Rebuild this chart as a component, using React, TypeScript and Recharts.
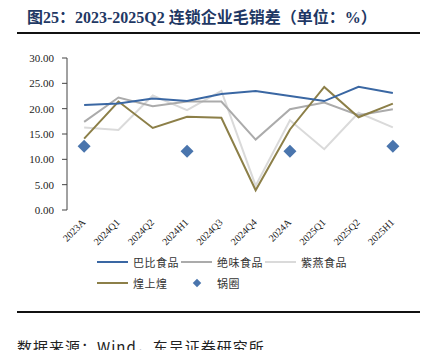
import React from 'react';
import { ComposedChart, Line, XAxis, YAxis } from 'recharts';

const categories = ['2023A', '2024Q1', '2024Q2', '2024H1', '2024Q3', '2024Q4', '2024A', '2025Q1', '2025Q2', '2025H1'];
const babi = [20.7, 21.0, 22.0, 21.5, 22.9, 23.5, 22.5, 21.5, 24.3, 23.1];
const juewei = [17.4, 22.2, 20.5, 21.4, 21.4, 13.9, 19.9, 21.2, 18.7, 19.9];
const ziyan = [16.3, 15.8, 22.6, 19.7, 23.5, 4.8, 17.7, 12.0, 19.2, 16.3];
const huangshanghuang = [14.1, 21.4, 16.2, 18.4, 18.2, 3.9, 15.9, 24.3, 18.3, 21.0];
const guoquan: (number | null)[] = [12.6, null, null, 11.6, null, null, 11.6, null, null, 12.6];
const yTicks = [0, 5, 10, 15, 20, 25, 30];
const boundaryTicks = [0, 1, 2, 3, 4, 5, 6, 7, 8, 9, 10];

const data = categories.map((c, i) => ({
  cat: c,
  babi: babi[i],
  juewei: juewei[i],
  ziyan: ziyan[i],
  hsh: huangshanghuang[i],
  gq: guoquan[i],
}));

const C_BABI = '#3A67A3';
const C_JUEWEI = '#ABABAB';
const C_ZIYAN = '#DADADA';
const C_HSH = '#8C7F48';
const C_GQ = '#4A75AD';

const SERIF = '"Liberation Serif", "Times New Roman", "Noto Sans CJK SC", serif';
const CJK = '"Noto Sans CJK SC", "Liberation Serif", sans-serif';

const XTick = (props: any) => {
  const { x, y, payload } = props;
  const ax = x + 2;
  const ay = y + 5;
  return (
    <text
      x={ax}
      y={ay}
      transform={`rotate(-45 ${ax} ${ay})`}
      textAnchor="end"
      fontSize={10}
      fill="#222"
      fontFamily={SERIF}
    >
      {payload.value}
    </text>
  );
};

const Diamond = (props: any) => {
  const { cx, cy, value, index } = props;
  if (value == null || cy == null || isNaN(cy)) return <g key={`d${index}`} />;
  const r = 6.5;
  return (
    <path
      key={`d${index}`}
      d={`M${cx},${cy - r}L${cx + r},${cy}L${cx},${cy + r}L${cx - r},${cy}Z`}
      fill={C_GQ}
      stroke="none"
    />
  );
};

const LegendItem = ({ color, label, left, top, diamond }: any) => (
  <div style={{ position: 'absolute', left, top, height: 14, display: 'flex', alignItems: 'center' }}>
    {diamond ? (
      <div style={{ width: 31, height: 14, position: 'relative' }}>
        <div
          style={{
            position: 'absolute',
            left: 13,
            top: 4,
            width: 6,
            height: 6,
            background: color,
            transform: 'rotate(45deg)',
          }}
        />
      </div>
    ) : (
      <div style={{ width: 31, height: 2, background: color }} />
    )}
    <span
      style={{
        marginLeft: 5,
        fontSize: 11,
        fontFamily: CJK,
        color: '#333',
        letterSpacing: 0.5,
        whiteSpace: 'nowrap',
      }}
    >
      {label}
    </span>
  </div>
);

export default function App() {
  return (
    <div
      style={{
        position: 'absolute',
        left: 0,
        top: 0,
        width: 442,
        height: 350,
        background: '#fff',
        overflow: 'hidden',
      }}
    >
      <div
        style={{
          position: 'absolute',
          left: 27,
          top: 8,
          fontFamily: SERIF,
          fontWeight: 'bold',
          fontSize: 16,
          color: '#1F3864',
          whiteSpace: 'nowrap',
          lineHeight: '20px',
        }}
      >
        图25：2023-2025Q2 连锁企业毛销差（单位：%）
      </div>
      <div style={{ position: 'absolute', left: 17, top: 32, width: 403, height: 2, background: '#111' }} />

      <div style={{ position: 'absolute', left: 0, top: 0 }}>
        <ComposedChart width={442} height={260} data={data} margin={{ top: 58, right: 32, bottom: 0, left: 20 }}>
          <XAxis
            xAxisId="grid"
            type="number"
            dataKey={() => 0}
            domain={[0, 10]}
            ticks={boundaryTicks}
            tick={false}
            height={0}
            axisLine={{ stroke: '#8A8A8A', strokeWidth: 2 }}
            tickLine={{ stroke: '#444' }}
            tickSize={4}
            allowDataOverflow
          />
          <XAxis
            xAxisId="cat"
            dataKey="cat"
            type="category"
            scale="band"
            axisLine={false}
            tickLine={false}
            height={50}
            interval={0}
            tick={<XTick />}
          />
          <YAxis
            domain={[0, 30]}
            ticks={yTicks}
            width={47}
            tickFormatter={(v: number) => v.toFixed(2)}
            axisLine={{ stroke: '#444' }}
            tickLine={{ stroke: '#444' }}
            tickSize={5}
            tickMargin={8}
            tick={{ fontSize: 11, fill: '#222', fontFamily: SERIF }}
            interval={0}
          />
          <Line xAxisId="cat" dataKey="ziyan" stroke={C_ZIYAN} strokeWidth={2} dot={false} isAnimationActive={false} />
          <Line xAxisId="cat" dataKey="juewei" stroke={C_JUEWEI} strokeWidth={2} dot={false} isAnimationActive={false} />
          <Line xAxisId="cat" dataKey="hsh" stroke={C_HSH} strokeWidth={2} dot={false} isAnimationActive={false} />
          <Line xAxisId="cat" dataKey="babi" stroke={C_BABI} strokeWidth={2} dot={false} isAnimationActive={false} />
          <Line
            xAxisId="cat"
            dataKey="gq"
            stroke="none"
            dot={<Diamond />}
            activeDot={false}
            isAnimationActive={false}
          />
        </ComposedChart>
      </div>

      <LegendItem color={C_BABI} label="巴比食品" left={97} top={255} />
      <LegendItem color={C_JUEWEI} label="绝味食品" left={181} top={255} />
      <LegendItem color={C_ZIYAN} label="紫燕食品" left={265} top={255} />
      <LegendItem color={C_HSH} label="煌上煌" left={97} top={276} />
      <LegendItem color={C_GQ} label="锅圈" left={181} top={276} diamond />

      <div style={{ position: 'absolute', left: 17, top: 311, width: 403, height: 2, background: '#111' }} />
      <div
        style={{
          position: 'absolute',
          left: 17,
          top: 336,
          fontFamily: CJK,
          fontSize: 15,
          color: '#222',
          whiteSpace: 'nowrap',
          letterSpacing: 1,
        }}
      >
        数据来源：Wind，东吴证券研究所
      </div>
    </div>
  );
}
